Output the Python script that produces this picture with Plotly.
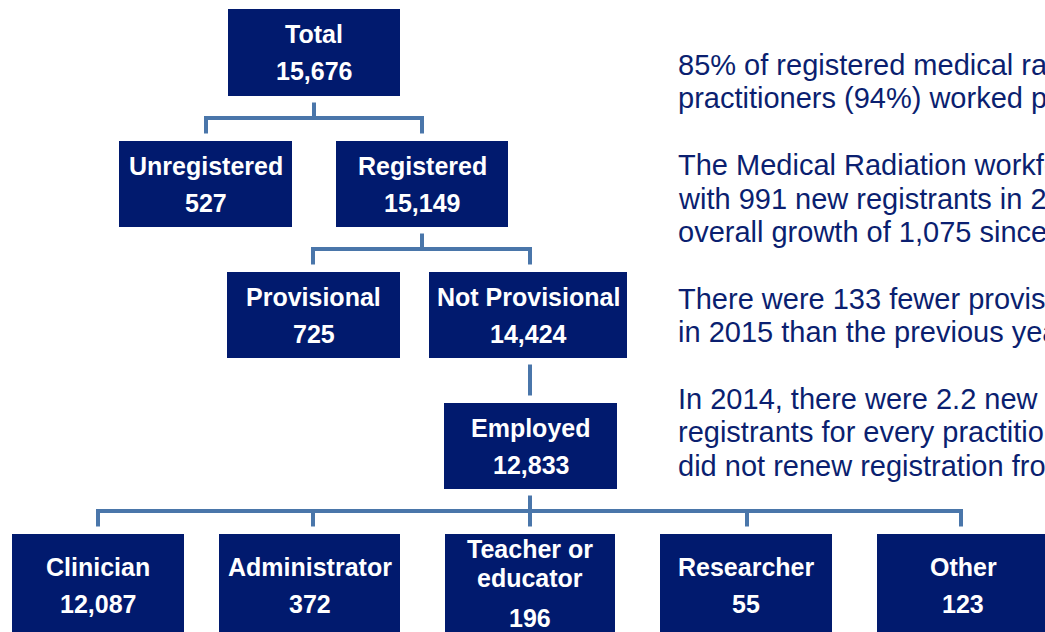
import plotly.graph_objects as go

# ---------------- data ----------------
node_labels = ["Total", "Unregistered", "Registered", "Provisional", "Not Provisional",
               "Employed", "Clinician", "Administrator", "Teacher or\neducator",
               "Researcher", "Other"]
node_values = [15676, 527, 15149, 725, 14424, 12833, 12087, 372, 196, 55, 123]
node_parents = [None, "Total", "Total", "Registered", "Registered", "Not Provisional",
                "Employed", "Employed", "Employed", "Employed", "Employed"]

commentary_lines = [
    "85% of registered medical radiation",
    "practitioners (94%) worked primarily",
    "",
    "The Medical Radiation workforce",
    "with 991 new registrants in 2015",
    "overall growth of 1,075 since",
    "",
    "There were 133 fewer provisional",
    "in 2015 than the previous year.",
    "",
    "In 2014, there were 2.2 new",
    "registrants for every practitioner",
    "did not renew registration from",
]

# ---------------- layout (pixel geometry) ----------------
W, H = 1045, 632
box_geom = {  # x0, x1, y0, y1, connector x
    "Total": (228, 400, 9, 96, 314),
    "Unregistered": (119, 292, 141, 227, 206),
    "Registered": (336, 508, 141, 227, 422),
    "Provisional": (227, 400, 272, 358, 313),
    "Not Provisional": (429, 627, 272, 358, 530),
    "Employed": (444, 617, 403, 489, 530),
    "Clinician": (12, 184, 534, 636, 98),
    "Administrator": (219, 400, 534, 636, 313),
    "Teacher or\neducator": (445, 615, 534, 636, 530),
    "Researcher": (660, 832, 534, 636, 747),
    "Other": (877, 1049, 534, 636, 961),
}
BOX_FILL = "#011A6E"
LINE_COLOR = "#4A76AA"
TEXT_NAVY = "#0B1F70"
FONT = "Arial, 'Liberation Sans', sans-serif"

fig = go.Figure()
shapes = []
annotations = []

# connectors
children_of = {}
for lab, par in zip(node_labels, node_parents):
    if par is not None:
        children_of.setdefault(par, []).append(lab)

line_style = dict(color=LINE_COLOR, width=4)
for par, kids in children_of.items():
    px0, px1, py0, py1, pcx = box_geom[par]
    top = py1 + 6.5
    kid_top = min(box_geom[k][2] for k in kids) - 7.5
    if len(kids) == 1:
        shapes.append(dict(type="line", xref="x", yref="y", x0=pcx, x1=pcx,
                           y0=top, y1=kid_top, line=line_style))
        continue
    bar = (top + kid_top) / 2
    xs = [box_geom[k][4] for k in kids]
    shapes.append(dict(type="line", xref="x", yref="y", x0=pcx, x1=pcx,
                       y0=top, y1=bar, line=line_style))
    shapes.append(dict(type="line", xref="x", yref="y", x0=min(xs) - 2, x1=max(xs) + 2,
                       y0=bar, y1=bar, line=line_style))
    for k in kids:
        kx = box_geom[k][4]
        shapes.append(dict(type="line", xref="x", yref="y", x0=kx, x1=kx,
                           y0=bar - 2, y1=box_geom[k][2] - 7.5, line=line_style))

# boxes and their text
for lab, val in zip(node_labels, node_values):
    x0, x1, y0, y1, _ = box_geom[lab]
    shapes.append(dict(type="rect", xref="x", yref="y", x0=x0, x1=x1, y0=y0, y1=y1,
                       fillcolor=BOX_FILL, line=dict(width=0), layer="above"))
    cx = (x0 + x1) / 2
    cy = (y0 + y1) / 2
    lines = lab.split("\n")
    n = len(lines)
    val_y = cy + 18.5 + 14.5 * (n - 1)
    last_y = val_y - 37 - 3 * (n - 1)
    for i, ln in enumerate(lines):
        ly = last_y - 29 * (n - 1 - i)
        annotations.append(dict(x=cx, y=ly, xref="x", yref="y", text=ln, showarrow=False,
                                xanchor="center", yanchor="middle",
                                font=dict(family=FONT, size=25, color="white", weight="bold")))
    annotations.append(dict(x=cx, y=val_y, xref="x", yref="y", text=f"{val:,}",
                            showarrow=False, xanchor="center", yanchor="middle",
                            font=dict(family=FONT, size=25, color="white", weight="bold")))

# commentary text on the right (runs past the right edge, as in the source)
for i, ln in enumerate(commentary_lines):
    if not ln:
        continue
    baseline = 74 + 33.4 * i
    annotations.append(dict(x=676, y=baseline - 9, xref="x", yref="y", text=ln,
                            showarrow=False, xanchor="left", yanchor="middle",
                            font=dict(family=FONT, size=29, color=TEXT_NAVY)))

fig.update_layout(
    width=W, height=H,
    margin=dict(l=0, r=0, t=0, b=0),
    paper_bgcolor="white", plot_bgcolor="white",
    xaxis=dict(range=[0, W], visible=False, fixedrange=True),
    yaxis=dict(range=[H, 0], visible=False, fixedrange=True),
    shapes=shapes, annotations=annotations,
    showlegend=False,
)
fig.write_html("out.html", config={"displayModeBar": False},
               post_script="document.body.style.margin='0';document.body.style.overflow='hidden';")
